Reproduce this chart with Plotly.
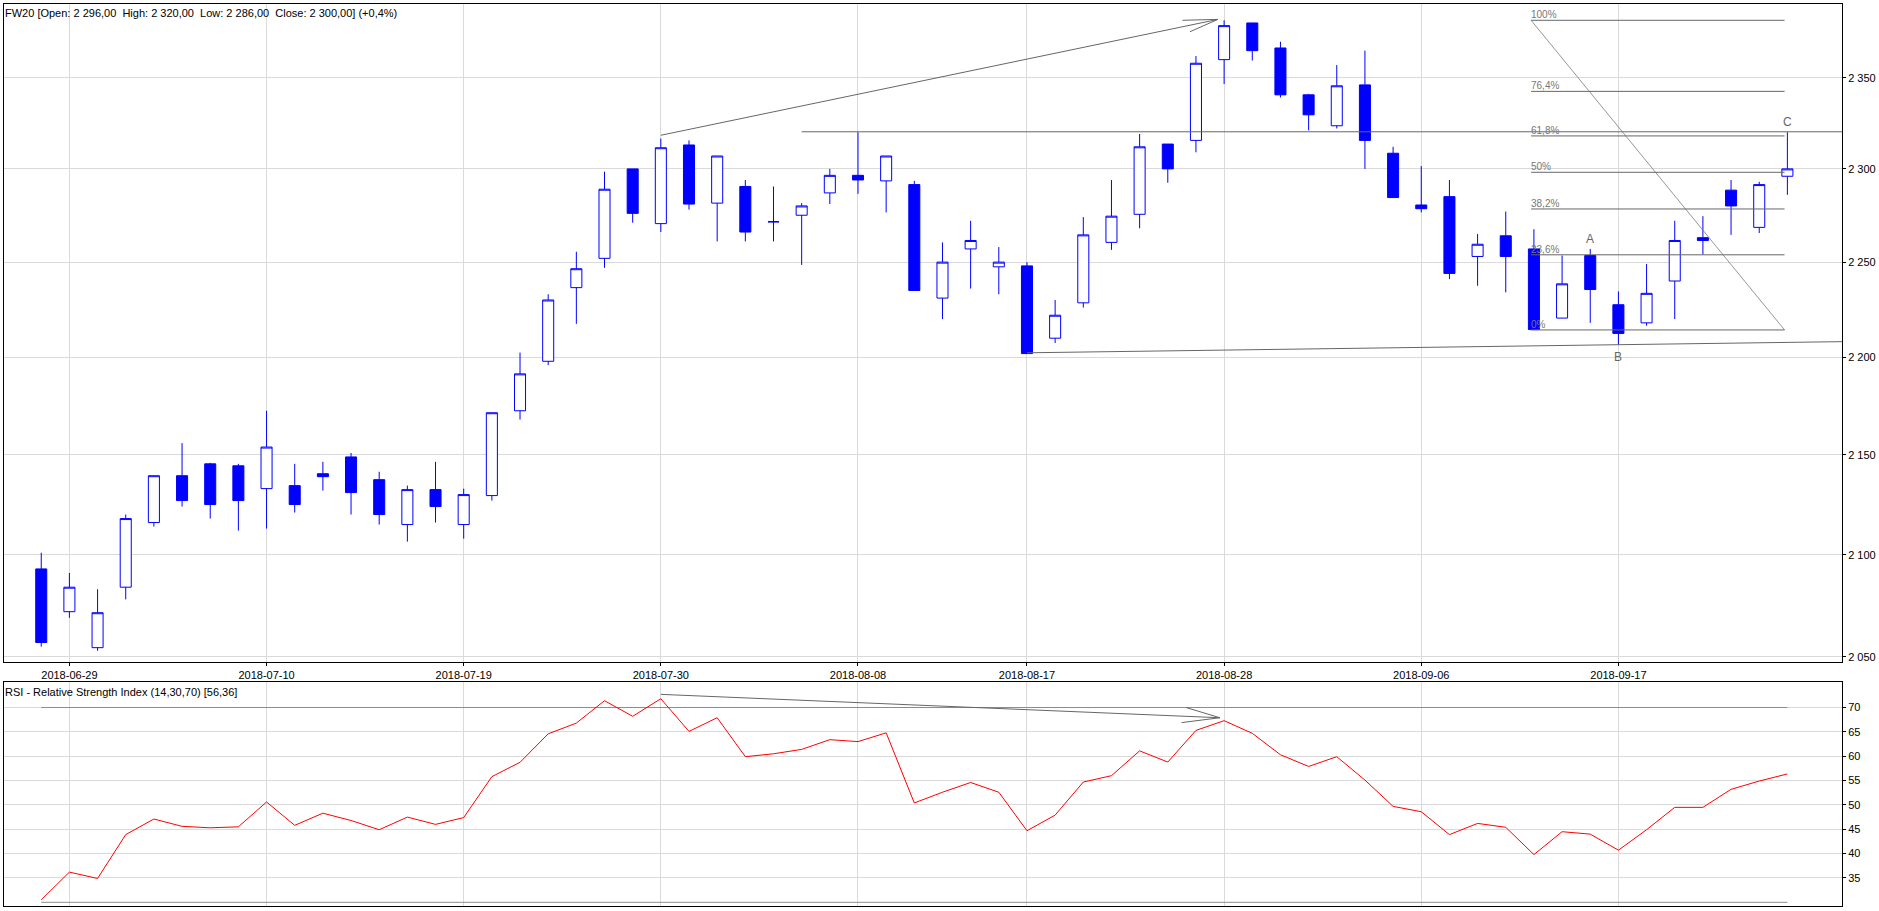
import math
import plotly.graph_objects as go

# ---------------- data ----------------
dates = ["2018-06-28", "2018-06-29", "2018-07-02", "2018-07-03", "2018-07-04", "2018-07-05",
         "2018-07-06", "2018-07-09", "2018-07-10", "2018-07-11", "2018-07-12", "2018-07-13",
         "2018-07-16", "2018-07-17", "2018-07-18", "2018-07-19", "2018-07-20", "2018-07-23",
         "2018-07-24", "2018-07-25", "2018-07-26", "2018-07-27", "2018-07-30", "2018-07-31",
         "2018-08-01", "2018-08-02", "2018-08-03", "2018-08-06", "2018-08-07", "2018-08-08",
         "2018-08-09", "2018-08-10", "2018-08-13", "2018-08-14", "2018-08-16", "2018-08-17",
         "2018-08-20", "2018-08-21", "2018-08-22", "2018-08-23", "2018-08-24", "2018-08-27",
         "2018-08-28", "2018-08-29", "2018-08-30", "2018-08-31", "2018-09-03", "2018-09-04",
         "2018-09-05", "2018-09-06", "2018-09-07", "2018-09-10", "2018-09-11", "2018-09-12",
         "2018-09-13", "2018-09-14", "2018-09-17", "2018-09-18", "2018-09-19", "2018-09-20",
         "2018-09-21", "2018-09-24", "2018-09-25"]

opens = [2093, 2072, 2054.5, 2084, 2116, 2139.5, 2145.5, 2144.5, 2133, 2134.5, 2140.5, 2149,
         2137.5, 2115, 2132.5, 2115, 2129.5, 2172.5, 2198, 2236.5, 2252, 2300, 2270.5, 2313,
         2281.5, 2290.5, 2271.5, 2275, 2287, 2296.5, 2293.5, 2291.5, 2231, 2257, 2247.5, 2248,
         2210, 2228.5, 2260.5, 2275.5, 2313.5, 2315.5, 2360, 2380.5, 2366.5, 2340.5, 2323.5, 2346,
         2308.5, 2280.5, 2285, 2253, 2264, 2257, 2220.5, 2253.5, 2227.5, 2218, 2240, 2263,
         2288.5, 2268.5, 2296]
highs = [2101, 2091, 2083, 2120, 2139.5, 2156, 2146, 2145.5, 2172.5, 2145.5, 2146.5, 2151,
         2141.5, 2134.5, 2146.5, 2133, 2171.5, 2202.5, 2233, 2255.5, 2298.5, 2300, 2316.5, 2315.5,
         2307, 2294, 2290.5, 2281.5, 2300, 2320, 2307, 2293.5, 2260.5, 2272, 2258, 2250,
         2230, 2274, 2294, 2319, 2313.5, 2362, 2382, 2380.5, 2370, 2341, 2357, 2365,
         2312, 2301.5, 2294, 2265, 2277, 2267.5, 2253.5, 2257, 2234.5, 2249, 2272, 2274.5,
         2294, 2293, 2320]
lows = [2055, 2069, 2053, 2078, 2114, 2124, 2118, 2112, 2113, 2121, 2132, 2120,
        2115, 2106.5, 2116, 2108, 2127, 2168, 2196, 2217.5, 2247, 2271, 2266, 2278,
        2261, 2261, 2261, 2248.5, 2281, 2286.5, 2276.5, 2235, 2220, 2236, 2233, 2202,
        2207.5, 2226, 2256.5, 2268, 2292.5, 2309, 2346.5, 2359.5, 2339, 2321, 2322, 2300,
        2284.5, 2276.5, 2241, 2237.5, 2234, 2214.5, 2220.5, 2218, 2206.5, 2216.5, 2220, 2254,
        2264.5, 2265.5, 2286]
closes = [2057, 2084, 2071.5, 2118, 2139.5, 2127, 2125, 2127, 2154, 2125, 2139, 2131,
          2120, 2132.5, 2124, 2130, 2171.5, 2191.5, 2230, 2246.5, 2289, 2276, 2311.5, 2281,
          2307, 2266, 2271.5, 2280, 2296.5, 2294, 2307, 2235, 2250, 2261.5, 2250, 2202,
          2222, 2264.5, 2274.5, 2312, 2300, 2358, 2379, 2365, 2340.5, 2329.5, 2345.5, 2315.5,
          2284.5, 2278.5, 2244, 2259.5, 2253, 2214.5, 2238.5, 2235.5, 2212.5, 2233.5, 2261.5, 2261.5,
          2280, 2291.5, 2300]
rsi = [30.5, 36.2, 34.9, 43.9, 47.1, 45.6, 45.3, 45.5, 50.6, 45.8, 48.3, 46.8, 44.9, 47.5,
       46.0, 47.4, 55.8, 58.75, 64.6, 66.8, 71.4, 68.2, 71.8, 65.1, 67.9, 59.9, 60.5, 61.4,
       63.4, 63.0, 64.8, 50.4, 52.6, 54.6, 52.6, 44.7, 47.9, 54.7, 56.0, 61.1, 58.8, 65.3,
       67.3, 64.7, 60.3, 57.9, 59.9, 55.1, 49.7, 48.6, 43.9, 46.2, 45.4, 39.8, 44.5, 44.0,
       40.7, 44.9, 49.5, 49.5, 53.2, 54.9, 56.36]

price_ticks = [2050, 2100, 2150, 2200, 2250, 2300, 2350]
price_tick_text = ["2 050", "2 100", "2 150", "2 200", "2 250", "2 300", "2 350"]
rsi_ticks = [35, 40, 45, 50, 55, 60, 65, 70]
date_tick_idx = [1, 8, 15, 22, 29, 35, 42, 49, 56]

title_text = ("FW20 [Open: 2 296,00\u00a0\u00a0High: 2 320,00\u00a0\u00a0Low: 2 286,00\u00a0\u00a0"
              "Close: 2 300,00] (+0,4%)")
rsi_title = "RSI - Relative Strength Index (14,30,70) [56,36]"

# drawing-tool anchors (index, value)
trend_x = [22, 41.78]
trend_y = [2318.3, 2382.5]
trend_barb_x = [40.52, 41.78, 40.79]
trend_barb_y = [2382.0, 2382.5, 2375.6]
resist_x = [27, 63.94]
resist_y = [2320.2, 2320.2]
support_x = [35, 63.94]
support_y = [2202.4, 2208.2]
fib_x = [52.9, 61.9]
fib_hi, fib_lo = 2382.0, 2214.3
fib_ratios = [0, 23.6, 38.2, 50, 61.8, 76.4, 100]
fib_labels = ["0%", "23,6%", "38,2%", "50%", "61,8%", "76,4%", "100%"]
abc = [("A", 55, "high"), ("B", 56, "low"), ("C", 62, "high")]
rsi_div_x = [22, 41.85]
rsi_div_y = [72.7, 67.9]
rsi_barb_x = [40.65, 41.85, 40.49]
rsi_barb_y = [70.0, 67.9, 66.9]
rsi_levels = [30, 70]

# ---------------- figure ----------------
FONT = "Liberation Sans, Arial, sans-serif"
GRID = "#dadada"
DRAW = "#666666"
idx = list(range(len(dates)))

fig = go.Figure()

fig.add_trace(go.Candlestick(
    x=idx, open=opens, high=highs, low=lows, close=closes,
    increasing=dict(line=dict(color="#0000ff", width=1), fillcolor="#ffffff"),
    decreasing=dict(line=dict(color="#0000ff", width=1), fillcolor="#0000ff"),
    whiskerwidth=0, hoverinfo="skip", xaxis="x", yaxis="y", showlegend=False))


def line(xs, ys, color=DRAW, width=1, xa="x", ya="y"):
    fig.add_trace(go.Scatter(x=xs, y=ys, mode="lines", line=dict(color=color, width=width),
                             hoverinfo="skip", showlegend=False, xaxis=xa, yaxis=ya,
                             cliponaxis=True))


line(trend_x, trend_y)
line(trend_barb_x, trend_barb_y)
line(resist_x, resist_y)
line(support_x, support_y)
line(fib_x, [fib_hi, fib_lo], color="#7a7a7a", width=0.8)
annotations = []
for r, lab in zip(fib_ratios, fib_labels):
    lvl = fib_lo + (fib_hi - fib_lo) * r / 100.0
    line(fib_x, [lvl, lvl])
    annotations.append(dict(x=fib_x[0], y=math.log10(lvl), xref="x", yref="y", text=lab,
                            showarrow=False, xanchor="left", yanchor="bottom", yshift=-2,
                            xshift=-2, font=dict(family=FONT, size=10, color="#777777")))
for lab, i, side in abc:
    if side == "high":
        annotations.append(dict(x=i, y=math.log10(highs[i]), xref="x", yref="y", text=lab,
                                showarrow=False, yanchor="bottom", yshift=1,
                                font=dict(family=FONT, size=12, color="#666666")))
    else:
        annotations.append(dict(x=i, y=math.log10(lows[i]), xref="x", yref="y", text=lab,
                                showarrow=False, yanchor="top", yshift=-3,
                                font=dict(family=FONT, size=12, color="#666666")))

# RSI panel
for lv in rsi_levels:
    line([0, len(dates) - 1], [lv, lv], color="#8c8c8c", width=1, xa="x2", ya="y2")
line(idx, rsi, color="#ff0000", width=1, xa="x2", ya="y2")
line(rsi_div_x, rsi_div_y, xa="x2", ya="y2")
line(rsi_barb_x, rsi_barb_y, xa="x2", ya="y2")

annotations.append(dict(x=0, y=0.98948, xref="paper", yref="paper", text=title_text,
                        showarrow=False, xanchor="left", yanchor="middle", xshift=-1,
                        font=dict(family=FONT, size=11, color="#000000")))
annotations.append(dict(x=0, y=0.23732, xref="paper", yref="paper", text=rsi_title,
                        showarrow=False, xanchor="left", yanchor="middle", xshift=-1,
                        font=dict(family=FONT, size=11, color="#000000")))

XR = [-1.3222, 63.939]
common_x = dict(range=XR, tickvals=date_tick_idx, showgrid=True, gridcolor=GRID, gridwidth=1,
                zeroline=False, showline=True, linecolor="#000000", linewidth=1, mirror=True,
                fixedrange=True)

fig.update_layout(
    width=1879, height=911,
    margin=dict(l=3, r=35, t=3, b=5),
    paper_bgcolor="#ffffff", plot_bgcolor="#ffffff",
    showlegend=False, hovermode=False,
    boxgap=0.3, boxgroupgap=0.44,
    font=dict(family=FONT, size=11, color="#000000"),
    xaxis=dict(common_x, anchor="y", domain=[0, 1],
               ticktext=[dates[i] for i in date_tick_idx], ticks="outside", ticklen=3,
               tickcolor="#000000", rangeslider=dict(visible=False),
               tickfont=dict(family=FONT, size=11, color="#000000")),
    yaxis=dict(type="log", domain=[0.27021, 1], range=[3.31121, 3.37861], side="right",
               anchor="x", tickvals=price_ticks, ticktext=price_tick_text, ticks="outside",
               ticklen=3, tickcolor="#000000", showgrid=True, gridcolor=GRID, zeroline=False,
               showline=True, linecolor="#000000", linewidth=1, mirror=True, fixedrange=True,
               tickfont=dict(family=FONT, size=11, color="#000000")),
    xaxis2=dict(common_x, anchor="y2", domain=[0, 1], showticklabels=False, ticks=""),
    yaxis2=dict(domain=[0, 0.24806], range=[29.24, 75.19], side="right", anchor="x2",
                tickvals=rsi_ticks, ticks="outside", ticklen=3, tickcolor="#000000",
                showgrid=True, gridcolor=GRID, zeroline=False, showline=True,
                linecolor="#000000", linewidth=1, mirror=True, fixedrange=True,
                tickfont=dict(family=FONT, size=11, color="#000000")),
    annotations=annotations,
)

fig.write_html("out.html", config={"displayModeBar": False},
               post_script="document.body.style.margin='0';document.body.style.overflow='hidden';")
